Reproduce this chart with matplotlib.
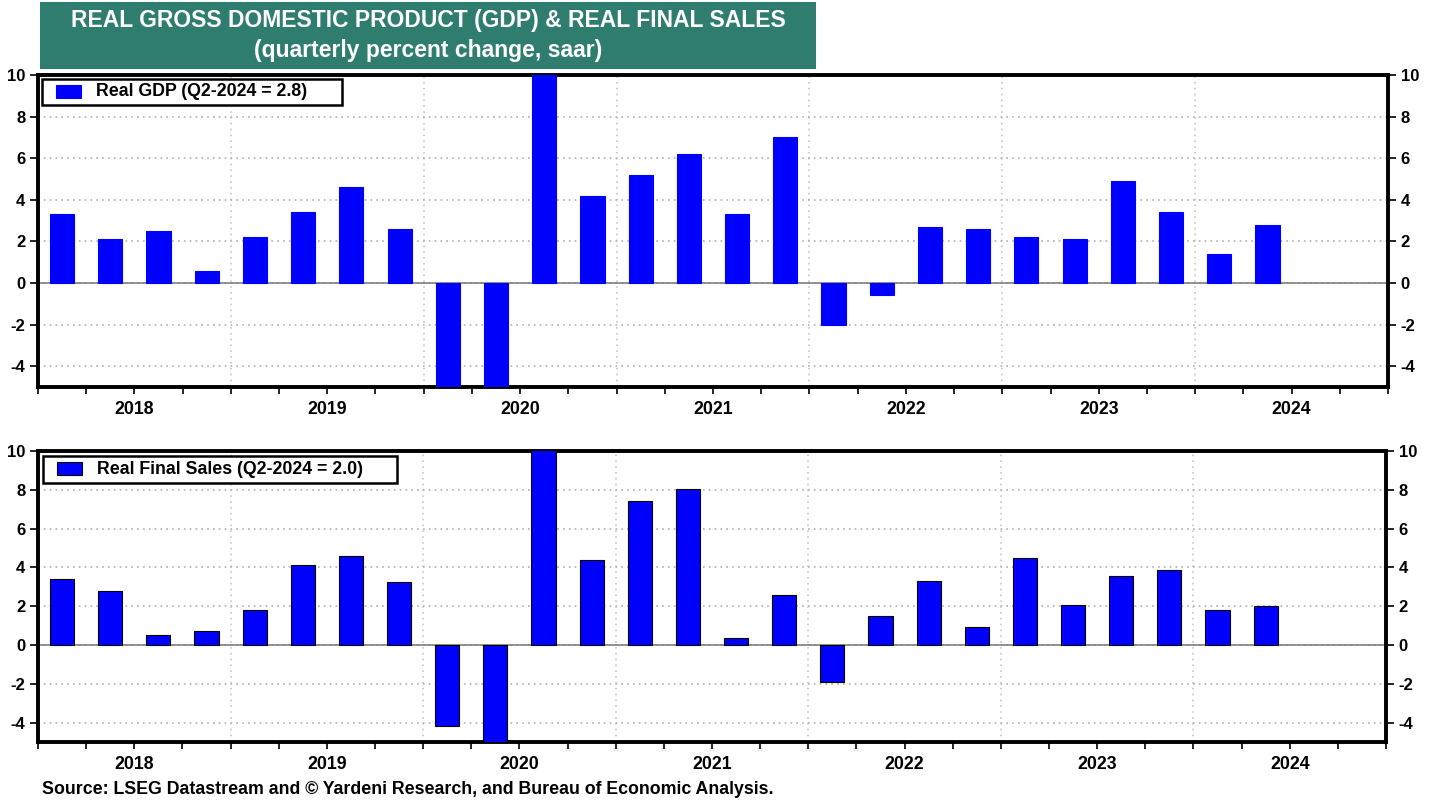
import matplotlib.pyplot as plt
from matplotlib.patches import Rectangle
import numpy as np

plt.rcParams['font.family'] = ['Liberation Sans', 'DejaVu Sans']
plt.rcParams['font.weight'] = 'bold'
plt.rcParams['axes.unicode_minus'] = False

# quarterly data, Q1-2018 .. Q2-2024 (% change, saar)
years = [2018, 2019, 2020, 2021, 2022, 2023, 2024]
gdp = [3.3, 2.1, 2.5, 0.6,
       2.2, 3.4, 4.6, 2.6,
       -5.5, -28.0, 34.8, 4.2,
       5.2, 6.2, 3.3, 7.0,
       -2.0, -0.6, 2.7, 2.6,
       2.2, 2.1, 4.9, 3.4,
       1.4, 2.8]
final_sales = [3.4, 2.8, 0.5, 0.7,
               1.8, 4.1, 4.6, 3.25,
               -4.2, -30.0, 25.0, 4.4,
               7.4, 8.05, 0.35, 2.6,
               -1.9, 1.5, 3.3, 0.95,
               4.5, 2.05, 3.55, 3.85,
               1.8, 2.0]

W, H = 1438, 807
fig = plt.figure(figsize=(W / 100, H / 100), dpi=100)


def px_axes(x0, x1, y0, y1):
    return fig.add_axes([x0 / W, 1 - y1 / H, (x1 - x0) / W, (y1 - y0) / H])


def fig_rect(x0, y0, x1, y1, **kw):
    r = Rectangle((x0 / W, 1 - y1 / H), (x1 - x0) / W, (y1 - y0) / H,
                  transform=fig.transFigure, **kw)
    fig.patches.append(r)


def panel(ax, values, edge):
    x = np.arange(len(values)) + 0.5
    ax.bar(x, values, width=0.5, color='#0000FF', edgecolor=edge,
           linewidth=0.8, zorder=3)
    nq = len(years) * 4
    ax.set_xlim(0, nq)
    ax.set_ylim(-5, 10)
    ax.axhline(0, color='#808080', lw=1.2, zorder=2)
    ax.set_yticks(np.arange(-4, 11, 2))
    ax.grid(axis='y', linestyle=(0, (1, 2.5)), color='#b0b0b0', lw=1.2, zorder=1)
    for k in range(1, len(years)):
        ax.axvline(4 * k, linestyle=(0, (1, 2.5)), color='#c8c8c8', lw=1.2, zorder=1)
    ax.set_xticks(np.arange(0, nq + 1))
    labels = [''] * (nq + 1)
    for i, y in enumerate(years):
        labels[4 * i + 2] = str(y)
    ax.set_xticklabels(labels)
    ax.tick_params(axis='x', direction='out', length=5, width=1.2, pad=5,
                   labelsize=12.8)
    ax.tick_params(axis='y', direction='out', length=6, width=1.2, labelsize=12,
                   right=True, labelright=True, pad=3)
    for s in ax.spines.values():
        s.set_linewidth(2.8)
    for t in ax.get_xticklabels() + ax.get_yticklabels():
        t.set_fontweight('bold')


def legend_box(x0, y0, x1, y1, px0, py0, px1, py1, tx, label, edge):
    fig_rect(x0, y0, x1, y1, facecolor='white', edgecolor='black', lw=1.8, zorder=5)
    fig_rect(px0, py0, px1, py1, facecolor='#0000FF', edgecolor=edge, lw=0.8, zorder=6)
    fig.text(tx / W, 1 - (y0 + y1) / 2 / H, label, ha='left', va='center',
             fontsize=12.8, fontweight='bold', zorder=6)


ax1 = px_axes(38, 1388, 75, 387)
panel(ax1, gdp, '#0000FF')
ax2 = px_axes(38, 1386, 451, 742)
panel(ax2, final_sales, 'black')

legend_box(42, 79, 342, 105, 56, 85, 81, 98, 96, 'Real GDP (Q2-2024 = 2.8)', '#0000FF')
legend_box(43, 456, 397, 483, 57, 462, 82, 475, 97, 'Real Final Sales (Q2-2024 = 2.0)', 'black')

# title box
fig_rect(40, 2, 816, 69, facecolor='#2E7D6F', edgecolor='none', zorder=0)
fig.text(428 / W, 1 - 20 / H, 'REAL GROSS DOMESTIC PRODUCT (GDP) & REAL FINAL SALES',
         ha='center', va='center', color='white', fontsize=16.5, fontweight='bold')
fig.text(428 / W, 1 - 50 / H, '(quarterly percent change, saar)',
         ha='center', va='center', color='white', fontsize=16.5, fontweight='bold')

fig.text(42 / W, 1 - 790 / H,
         'Source: LSEG Datastream and \u00a9 Yardeni Research, and Bureau of Economic Analysis.',
         ha='left', va='center', fontsize=12.8, fontweight='bold')

fig.savefig('out.png', dpi=100)
